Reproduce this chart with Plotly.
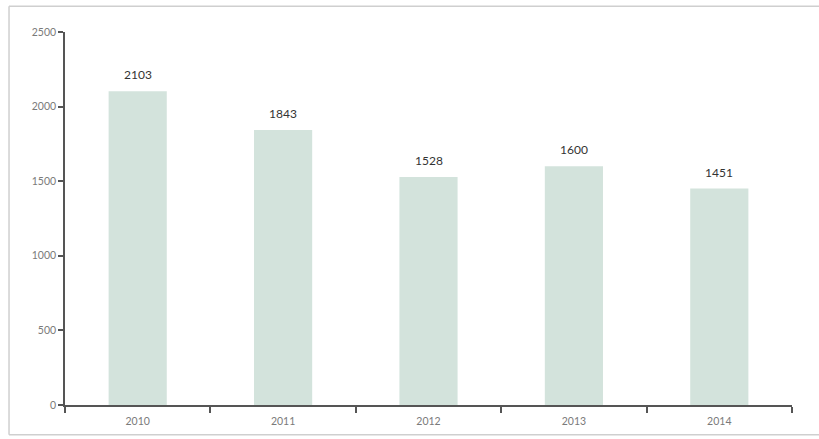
import plotly.graph_objects as go

years = ["2010", "2011", "2012", "2013", "2014"]
values = [2103, 1843, 1528, 1600, 1451]
y_ticks = [0, 500, 1000, 1500, 2000, 2500]

fig = go.Figure()
fig.add_trace(go.Bar(
    x=years, y=values, width=0.4,
    marker=dict(color="#d3e3dc", line=dict(width=0)),
    hoverinfo="x+y",
))

# data labels placed at the category index on the category axis
for i, v in enumerate(values):
    fig.add_annotation(x=i, y=v, text=str(v), showarrow=False,
                       xref="x", yref="y",
                       yanchor="bottom", yshift=7,
                       font=dict(family="Lato, sans-serif", size=12, color="#333"))

fig.update_layout(
    width=819, height=439,
    margin=dict(l=65, r=27, t=32, b=32),
    paper_bgcolor="white", plot_bgcolor="white",
    showlegend=False,
    font=dict(family="Lato, sans-serif"),
)
fig.update_xaxes(
    type="category", categoryorder="array", categoryarray=years,
    showline=True, linecolor="#555", linewidth=1.5,
    ticks="outside", tickson="boundaries", ticklen=6, tickcolor="#555", tickwidth=1.5,
    ticklabelstandoff=6,
    tickfont=dict(size=10.5, color="#7a7a7a"), showgrid=False, zeroline=False,
)
fig.update_yaxes(
    range=[0, 2500], tickvals=y_ticks, showline=True, linecolor="#555", linewidth=1.5,
    ticks="outside", ticklen=5, tickcolor="#555", tickwidth=1.5,
    tickfont=dict(size=10.5, color="#7a7a7a"), showgrid=False, zeroline=False,
)
# frame: top, left and bottom edges only (right edge lies outside the picture)
frame = dict(color="#cfcfcf", width=1.5)
fig.add_shape(type="line", xref="paper", yref="paper", x0=-0.077, x1=1.2, y0=1.069, y1=1.069, line=frame, layer="below")
fig.add_shape(type="line", xref="paper", yref="paper", x0=-0.077, x1=-0.077, y0=-0.08, y1=1.069, line=frame, layer="below")
fig.add_shape(type="line", xref="paper", yref="paper", x0=-0.077, x1=1.2, y0=-0.08, y1=-0.08, line=frame, layer="below")

fig.write_html("out.html")
